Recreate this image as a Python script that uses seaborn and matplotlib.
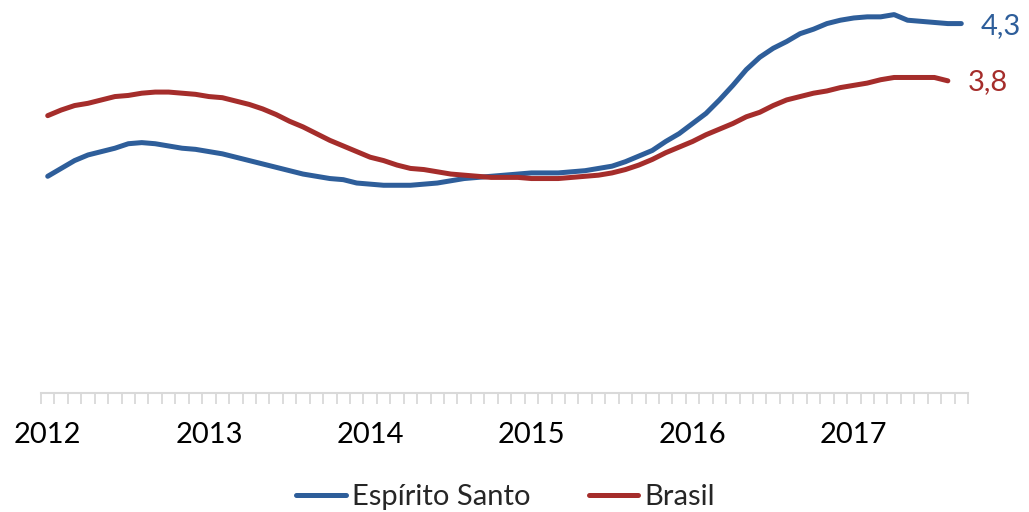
import numpy as np
import pandas as pd
import matplotlib
matplotlib.use("Agg")
import matplotlib.pyplot as plt
import seaborn as sns

# ---- data (monthly, Jan 2012 onwards) ----
year_labels = ["2012", "2013", "2014", "2015", "2016", "2017"]
espirito_santo = [2.93, 3.00, 3.07, 3.12, 3.15, 3.18, 3.22, 3.23, 3.22, 3.20, 3.18, 3.17,
                  3.15, 3.13, 3.10, 3.07, 3.04, 3.01, 2.98, 2.95, 2.93, 2.91, 2.90, 2.87,
                  2.86, 2.85, 2.85, 2.85, 2.86, 2.87, 2.89, 2.91, 2.92, 2.93, 2.94, 2.95,
                  2.96, 2.96, 2.96, 2.97, 2.98, 3.00, 3.02, 3.06, 3.11, 3.16, 3.24, 3.31,
                  3.40, 3.49, 3.61, 3.74, 3.88, 3.99, 4.07, 4.13, 4.20, 4.24, 4.29, 4.32,
                  4.34, 4.35, 4.35, 4.37, 4.32, 4.31, 4.30, 4.29, 4.29]
brasil = [3.47, 3.52, 3.56, 3.58, 3.61, 3.64, 3.65, 3.67, 3.68, 3.68, 3.67, 3.66,
          3.64, 3.63, 3.60, 3.57, 3.53, 3.48, 3.42, 3.37, 3.31, 3.25, 3.20, 3.15,
          3.10, 3.07, 3.03, 3.00, 2.99, 2.97, 2.95, 2.94, 2.93, 2.92, 2.92, 2.92,
          2.91, 2.91, 2.91, 2.92, 2.93, 2.94, 2.96, 2.99, 3.03, 3.08, 3.14, 3.19,
          3.24, 3.30, 3.35, 3.40, 3.46, 3.50, 3.56, 3.61, 3.64, 3.67, 3.69, 3.72,
          3.74, 3.76, 3.79, 3.81, 3.81, 3.81, 3.81, 3.78]
n_months = 69

BLUE = "#2E5E9A"
RED = "#A52D2B"

sns.set_style("white")
plt.rcParams["font.family"] = ["Lato", "DejaVu Sans"]

months = pd.date_range("2012-01-01", periods=n_months, freq="MS")
df = pd.concat([
    pd.DataFrame({"idx": np.arange(len(espirito_santo)), "valor": espirito_santo,
                  "serie": "Espírito Santo"}),
    pd.DataFrame({"idx": np.arange(len(brasil)), "valor": brasil, "serie": "Brasil"}),
])

fig = plt.figure(figsize=(10.29, 5.12), dpi=100)
ax = fig.add_axes([41 / 1029, 1 - 393 / 512, 927 / 1029, 393 / 512])

sns.lineplot(data=df, x="idx", y="valor", hue="serie",
             palette={"Espírito Santo": BLUE, "Brasil": RED},
             linewidth=3.6, ax=ax, legend=False, solid_capstyle="round")

ax.set_xlim(-0.5, n_months - 0.5)
ax.set_ylim(1.0, 4.5)
for s in ["left", "right", "top"]:
    ax.spines[s].set_visible(False)
ax.spines["bottom"].set_color("#d9d9d9")
ax.spines["bottom"].set_linewidth(1.5)
ax.set_yticks([])
ax.set_xlabel("")
ax.set_ylabel("")

year_pos = [i for i, m in enumerate(months) if m.month == 1]
ax.set_xticks(year_pos)
ax.set_xticklabels(year_labels, fontsize=21, color="black")
ax.set_xticks(np.arange(-0.5, n_months, 1.0), minor=True)
ax.tick_params(axis="x", which="both", bottom=True)
ax.tick_params(axis="x", which="major", length=0, pad=21)
ax.tick_params(axis="x", which="minor", length=7.7, width=1.3, color="#d9d9d9",
               direction="out")

# end labels
for vals, col, dy in [(espirito_santo, BLUE, -2), (brasil, RED, -1)]:
    last = len(vals) - 1
    ax.annotate(f"{vals[-1]:.1f}".replace(".", ","), xy=(last, vals[-1]),
                xytext=(14, dy), textcoords="offset points", ha="left", va="center",
                fontsize=21, color=col, annotation_clip=False)

handles = [plt.Line2D([], [], color=BLUE, lw=3.6, solid_capstyle="round"),
           plt.Line2D([], [], color=RED, lw=3.6, solid_capstyle="round")]
fig.legend(handles, ["Espírito Santo", "Brasil"], loc="center",
           bbox_to_anchor=(505.5 / 1029, 1 - 497 / 512), ncol=2, frameon=False,
           fontsize=21, handlelength=1.7, handletextpad=0.2, columnspacing=2.0,
           borderpad=0, borderaxespad=0)

fig.savefig("out.png", dpi=100)
